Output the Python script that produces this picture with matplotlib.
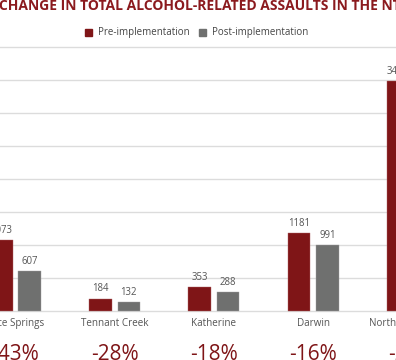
import matplotlib
matplotlib.use("Agg")
import matplotlib.pyplot as plt
from matplotlib.patches import Patch
from matplotlib.transforms import blended_transform_factory

categories = ["Alice Springs", "Tennant Creek", "Katherine", "Darwin", "Northern Territory"]
pre = [1073, 184, 353, 1181, 3488]
post = [607, 132, 288, 991, 2790]
changes = ["-43%", "-28%", "-18%", "-16%", "-20%"]
yticks = [0, 500, 1000, 1500, 2000, 2500, 3000, 3500, 4000]

title = "CHANGE IN TOTAL ALCOHOL-RELATED ASSAULTS IN THE NT"
RED = "#7f1517"
GRAY = "#6f706f"
FONT = ["Open Sans", "DejaVu Sans"]
TFONT = ["Open Sans", "DejaVu Sans"]

W, H = 396, 360
fig = plt.figure(figsize=(W / 100, H / 100), dpi=100)
fig.patch.set_facecolor("white")

ax = fig.add_axes([0, 0.12594, 1, 0.88775 - 0.12594])
ax.set_xlim(-0.156, 3.836)
ax.set_ylim(-60, 4100)

x = list(range(len(categories)))
bw = 0.229
off = 0.143
bars_pre = ax.bar([i - off for i in x], pre, width=bw, color=RED, zorder=3,
                  edgecolor="#b06466", linewidth=0.3)
bars_post = ax.bar([i + off for i in x], post, width=bw, color=GRAY, zorder=3,
                   edgecolor="#a0a0a0", linewidth=0.3)

for bars, vals in ((bars_pre, pre), (bars_post, post)):
    for b, v in zip(bars, vals):
        ax.annotate(str(v), (b.get_x() + b.get_width() / 2, v), xytext=(0, 3),
                    textcoords="offset points", ha="center", va="bottom",
                    fontsize=6.9, color="#555555", family=FONT, annotation_clip=False)

ax.set_yticks(yticks)
ax.yaxis.grid(True, color="#dcdcdc", linewidth=1.0, zorder=0)
ax.tick_params(left=False, bottom=False, labelleft=False, labelbottom=False)
for s in ax.spines.values():
    s.set_visible(False)

tr = blended_transform_factory(ax.transData, fig.transFigure)
for i, (c, ch) in enumerate(zip(categories, changes)):
    ax.text(i, 1 - 323.5 / H, c, transform=tr, ha="center", va="center",
            fontsize=7.1, color="#555555", family=FONT, clip_on=False)
    ax.text(i, 1 - 359.5 / H, ch, transform=tr, ha="center", va="baseline",
            fontsize=15, color=RED, family=FONT, fontweight="normal", clip_on=False)

leg = fig.legend(handles=[Patch(color=RED, label="Pre-implementation"),
                          Patch(color=GRAY, label="Post-implementation")],
                 loc="center", bbox_to_anchor=(196.5 / W, 1 - 33 / H), ncol=2,
                 frameon=False, handlelength=0.75, handleheight=0.75,
                 handletextpad=0.6, columnspacing=0.9,
                 prop={"family": FONT, "size": 7.0})
for t in leg.get_texts():
    t.set_color("#444444")

# title: fit visible width
t = fig.text(-1 / W, 1 - 10.5 / H, title, ha="left", va="baseline", fontsize=10,
             color="#8b1a1e", family=TFONT, fontweight="bold")
fig.canvas.draw()
r = fig.canvas.get_renderer()
w = t.get_window_extent(r).width
t.set_fontsize(10 * 401 / w)

fig.savefig("out.png", dpi=100)
